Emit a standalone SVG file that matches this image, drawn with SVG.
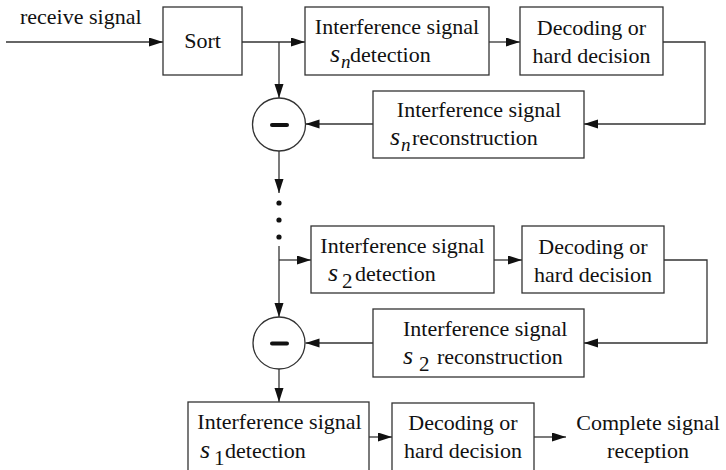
<svg xmlns="http://www.w3.org/2000/svg" width="726" height="470" viewBox="0 0 726 470">
<defs>
<marker id="arr" markerUnits="userSpaceOnUse" markerWidth="15" markerHeight="10" refX="14" refY="4.5" orient="auto">
<path d="M0,0 L14,4.5 L0,9 z" fill="#111"/>
</marker>
<style>
.box{fill:#fff;stroke:#333;stroke-width:1.3}
.ln{fill:none;stroke:#333;stroke-width:1.3}
.arr{marker-end:url(#arr)}
text{font-family:"Liberation Serif","Times New Roman",serif;font-size:22px;fill:#111}
.c{text-anchor:middle}
.s{font-style:italic;font-size:26px}
.sub{font-style:italic;font-size:19px}
.num{font-size:21px}
.minus{stroke:#111;stroke-width:4;stroke-linecap:round}
</style>
</defs>
<rect width="726" height="470" fill="#fff"/>

<g id="connectors">
<line class="ln arr" x1="6" y1="42" x2="163" y2="42"/>
<line class="ln arr" x1="242" y1="42" x2="305" y2="42"/>
<line class="ln arr" x1="279" y1="42" x2="279" y2="98"/>
<line class="ln arr" x1="489" y1="42" x2="520" y2="42"/>
<polyline class="ln arr" points="663,42 705,42 705,124 584,124"/>
<line class="ln arr" x1="373" y1="124" x2="305.5" y2="124"/>
<line class="ln arr" x1="279" y1="151" x2="279" y2="193"/>
<circle cx="279" cy="203" r="2.6" fill="#111"/>
<circle cx="279" cy="220" r="2.6" fill="#111"/>
<circle cx="279" cy="237" r="2.6" fill="#111"/>
<line class="ln arr" x1="279" y1="246" x2="279" y2="317"/>
<line class="ln arr" x1="279" y1="260" x2="311" y2="260"/>
<line class="ln arr" x1="494" y1="260" x2="522" y2="260"/>
<polyline class="ln arr" points="664,260 707,260 707,343 584,343"/>
<line class="ln arr" x1="373" y1="343" x2="305.5" y2="343"/>
<line class="ln arr" x1="279" y1="369" x2="279" y2="402"/>
<line class="ln arr" x1="369" y1="437" x2="392" y2="437"/>
<line class="ln arr" x1="534" y1="437" x2="566" y2="437"/>
</g>

<g id="input-label">
<text x="20" y="24">receive signal</text>
</g>

<g id="sort">
<rect class="box" x="163" y="7" width="79" height="68"/>
<text class="c" x="202.5" y="48">Sort</text>
</g>

<g id="detect-n">
<rect class="box" x="305" y="7" width="184" height="68"/>
<text class="c" x="397" y="34">Interference signal</text>
<text x="330" y="62" class="s">s</text>
<text x="341" y="68" class="sub">n</text>
<text x="350" y="62">detection</text>
</g>

<g id="decode-n">
<rect class="box" x="520" y="7" width="143" height="68"/>
<text class="c" x="591.5" y="35">Decoding or</text>
<text class="c" x="591.5" y="63">hard decision</text>
</g>

<g id="recon-n">
<rect class="box" x="373" y="91" width="211" height="67"/>
<text class="c" x="479" y="117">Interference signal</text>
<text x="390" y="145" class="s">s</text>
<text x="401" y="151" class="sub">n</text>
<text x="412" y="145">reconstruction</text>
</g>

<g id="sub-1">
<circle cx="279" cy="124.5" r="26.5" fill="#fff" stroke="#333" stroke-width="1.3"/>
<line class="minus" x1="272" y1="125" x2="287" y2="125"/>
</g>

<g id="detect-2">
<rect class="box" x="311" y="226" width="183" height="67"/>
<text class="c" x="402.5" y="253">Interference signal</text>
<text x="328" y="281" class="s">s</text>
<text x="342" y="288" class="num">2</text>
<text x="355" y="281">detection</text>
</g>

<g id="decode-2">
<rect class="box" x="522" y="226" width="142" height="67"/>
<text class="c" x="593" y="254">Decoding or</text>
<text class="c" x="593" y="282">hard decision</text>
</g>

<g id="recon-2">
<rect class="box" x="373" y="309" width="211" height="68"/>
<text x="403" y="336">Interference signal</text>
<text x="403" y="364" class="s">s</text>
<text x="419" y="371" class="num">2</text>
<text x="437" y="364">reconstruction</text>
</g>

<g id="sub-2">
<circle cx="279" cy="343" r="26" fill="#fff" stroke="#333" stroke-width="1.3"/>
<line class="minus" x1="272" y1="343.5" x2="287" y2="343.5"/>
</g>

<g id="detect-1">
<rect class="box" x="188" y="402" width="181" height="90"/>
<text class="c" x="279.5" y="429">Interference signal</text>
<text x="200" y="458" class="s">s</text>
<text x="214" y="465" class="num">1</text>
<text x="225" y="458">detection</text>
</g>

<g id="decode-1">
<rect class="box" x="392" y="403" width="142" height="90"/>
<text class="c" x="463" y="430">Decoding or</text>
<text class="c" x="463" y="458">hard decision</text>
</g>

<g id="output-label">
<text class="c" x="648" y="430">Complete signal</text>
<text class="c" x="648" y="458">reception</text>
</g>
</svg>
